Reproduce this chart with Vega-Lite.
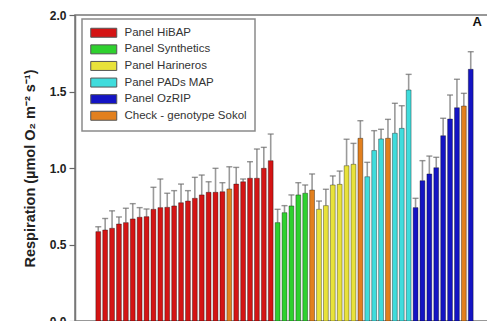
{
  "$schema": "https://vega.github.io/schema/vega-lite/v6.json",
  "autosize": "none",
  "padding": {"left": 75, "top": 15, "right": 0, "bottom": 0},
  "width": 419,
  "height": 306,
  "config": {
    "view": {"stroke": "#777777", "strokeWidth": 1.5},
    "font": "Liberation Sans"
  },
  "title": {"text": "A", "orient": "top", "anchor": "end", "offset": -20, "dx": -12, "fontSize": 13, "fontWeight": "bold", "font": "Liberation Sans", "color": "#111111"},
  "data": {
    "values": [
      {"id": "01", "panel": "Panel HiBAP", "value": 0.584, "upper": 0.616},
      {"id": "02", "panel": "Panel HiBAP", "value": 0.595, "upper": 0.67},
      {"id": "03", "panel": "Panel HiBAP", "value": 0.606, "upper": 0.72},
      {"id": "04", "panel": "Panel HiBAP", "value": 0.634, "upper": 0.68},
      {"id": "05", "panel": "Panel HiBAP", "value": 0.643, "upper": 0.737},
      {"id": "06", "panel": "Panel HiBAP", "value": 0.667, "upper": 0.767},
      {"id": "07", "panel": "Panel HiBAP", "value": 0.678, "upper": 0.741},
      {"id": "08", "panel": "Panel HiBAP", "value": 0.682, "upper": 0.732},
      {"id": "09", "panel": "Panel HiBAP", "value": 0.73, "upper": 0.874},
      {"id": "10", "panel": "Panel HiBAP", "value": 0.741, "upper": 0.928},
      {"id": "11", "panel": "Panel HiBAP", "value": 0.743, "upper": 0.835},
      {"id": "12", "panel": "Panel HiBAP", "value": 0.752, "upper": 0.852},
      {"id": "13", "panel": "Panel HiBAP", "value": 0.773, "upper": 0.895},
      {"id": "14", "panel": "Panel HiBAP", "value": 0.784, "upper": 0.852},
      {"id": "15", "panel": "Panel HiBAP", "value": 0.802, "upper": 0.939},
      {"id": "16", "panel": "Panel HiBAP", "value": 0.824, "upper": 0.954},
      {"id": "17", "panel": "Panel HiBAP", "value": 0.841, "upper": 0.91},
      {"id": "18", "panel": "Panel HiBAP", "value": 0.841, "upper": 0.998},
      {"id": "19", "panel": "Panel HiBAP", "value": 0.845, "upper": 0.904},
      {"id": "20", "panel": "Check - genotype Sokol", "value": 0.863, "upper": 1.008},
      {"id": "21", "panel": "Panel HiBAP", "value": 0.895, "upper": 1.004},
      {"id": "22", "panel": "Panel HiBAP", "value": 0.91, "upper": 0.928},
      {"id": "23", "panel": "Panel HiBAP", "value": 0.933, "upper": 1.041},
      {"id": "24", "panel": "Panel HiBAP", "value": 0.933, "upper": 1.124},
      {"id": "25", "panel": "Panel HiBAP", "value": 0.998, "upper": 1.135},
      {"id": "26", "panel": "Panel HiBAP", "value": 1.048, "upper": 1.222},
      {"id": "27", "panel": "Panel Synthetics", "value": 0.643, "upper": 0.73},
      {"id": "28", "panel": "Panel Synthetics", "value": 0.708, "upper": 0.754},
      {"id": "29", "panel": "Panel Synthetics", "value": 0.752, "upper": 0.824},
      {"id": "30", "panel": "Panel Synthetics", "value": 0.824, "upper": 0.904},
      {"id": "31", "panel": "Panel Synthetics", "value": 0.835, "upper": 0.889},
      {"id": "32", "panel": "Check - genotype Sokol", "value": 0.856, "upper": 0.961},
      {"id": "33", "panel": "Panel Harineros", "value": 0.73, "upper": 0.784},
      {"id": "34", "panel": "Panel Harineros", "value": 0.754, "upper": 0.861},
      {"id": "35", "panel": "Panel Harineros", "value": 0.889, "upper": 0.948},
      {"id": "36", "panel": "Panel Harineros", "value": 0.893, "upper": 0.98},
      {"id": "37", "panel": "Panel Harineros", "value": 1.015, "upper": 1.188},
      {"id": "38", "panel": "Panel Harineros", "value": 1.024, "upper": 1.161},
      {"id": "39", "panel": "Check - genotype Sokol", "value": 1.194, "upper": 1.309},
      {"id": "40", "panel": "Panel PADs MAP", "value": 0.943, "upper": 1.037},
      {"id": "41", "panel": "Panel PADs MAP", "value": 1.114, "upper": 1.244},
      {"id": "42", "panel": "Panel PADs MAP", "value": 1.19, "upper": 1.253},
      {"id": "43", "panel": "Check - genotype Sokol", "value": 1.194, "upper": 1.318},
      {"id": "44", "panel": "Panel PADs MAP", "value": 1.227, "upper": 1.423},
      {"id": "45", "panel": "Panel PADs MAP", "value": 1.259, "upper": 1.407},
      {"id": "46", "panel": "Panel PADs MAP", "value": 1.51, "upper": 1.612},
      {"id": "47", "panel": "Panel OzRIP", "value": 0.741, "upper": 0.802},
      {"id": "48", "panel": "Panel OzRIP", "value": 0.917, "upper": 1.048},
      {"id": "49", "panel": "Panel OzRIP", "value": 0.961, "upper": 1.078},
      {"id": "50", "panel": "Panel OzRIP", "value": 1.002, "upper": 1.07},
      {"id": "51", "panel": "Panel OzRIP", "value": 1.211, "upper": 1.325},
      {"id": "52", "panel": "Panel OzRIP", "value": 1.32, "upper": 1.477},
      {"id": "53", "panel": "Panel OzRIP", "value": 1.394, "upper": 1.58},
      {"id": "54", "panel": "Check - genotype Sokol", "value": 1.405, "upper": 1.488},
      {"id": "55", "panel": "Panel OzRIP", "value": 1.645, "upper": 1.76}
    ]
  },
  "encoding": {
    "x": {"field": "id", "type": "nominal", "sort": null, "axis": null, "scale": {"paddingInner": 0.3, "paddingOuter": 0.5, "range": [17.4, 401.6]}}
  },
  "layer": [
    {
      "mark": {"type": "rule", "color": "#9a9a9a", "strokeWidth": 1.6},
      "encoding": {
        "y": {"field": "value", "type": "quantitative"},
        "y2": {"field": "upper"}
      }
    },
    {
      "mark": {"type": "tick", "color": "#6a6a6a", "size": 6, "thickness": 1.4, "orient": "horizontal"},
      "encoding": {
        "y": {"field": "upper", "type": "quantitative"}
      }
    },
    {
      "mark": {"type": "bar", "stroke": "#000000", "strokeOpacity": 0.45, "strokeWidth": 0.8},
      "encoding": {
        "y": {
          "field": "value", "type": "quantitative",
          "scale": {"domain": [0, 2], "nice": false},
          "axis": {
            "values": [0, 0.5, 1, 1.5, 2], "format": ".1f", "grid": false,
            "labelFont": "Liberation Sans", "labelFontSize": 12, "labelFontWeight": "bold", "labelColor": "#222222",
            "tickSize": 6, "tickColor": "#666666", "tickWidth": 1.2, "labelPadding": 3,
            "domainColor": "#777777", "domainWidth": 1.5,
            "title": "Respiration (µmol O₂ m⁻² s⁻¹)",
            "titleFont": "Liberation Sans", "titleFontSize": 14.5, "titleFontWeight": "bold", "titleColor": "#222222", "titlePadding": 12
          }
        },
        "fill": {
          "field": "panel", "type": "nominal",
          "scale": {
            "domain": ["Panel HiBAP", "Panel Synthetics", "Panel Harineros", "Panel PADs MAP", "Panel OzRIP", "Check - genotype Sokol"],
            "range": ["#d41414", "#2fd12f", "#e8e23a", "#3fdcdc", "#1414c4", "#e2801e"]
          },
          "legend": {
            "title": null, "orient": "none", "legendX": 7, "legendY": 4, "padding": 8,
            "strokeColor": "#8a8a8a",
            "symbolType": "M-1,-0.9L4.2,-0.9L4.2,0.9L-1,0.9Z", "symbolSize": 100,
            "symbolStrokeColor": "#555555", "symbolStrokeWidth": 1, "symbolOpacity": 1,
            "labelFont": "Liberation Sans", "labelFontSize": 11.5, "labelColor": "#333333",
            "labelOffset": 23, "rowPadding": 2.6,
            "encode": {"legend": {"update": {"strokeWidth": {"value": 1.5}}}}
          }
        }
      }
    }
  ]
}
